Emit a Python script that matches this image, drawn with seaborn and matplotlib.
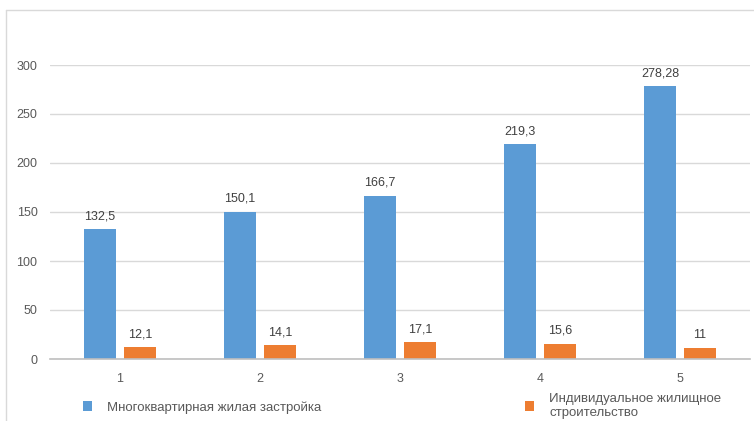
import matplotlib
matplotlib.use("Agg")
import matplotlib.pyplot as plt
from matplotlib.lines import Line2D
import seaborn as sns
import pandas as pd

# Data
periods = ["1", "2", "3", "4", "5"]
apartment_blocks = [132.5, 150.1, 166.7, 219.3, 278.28]
private_housing = [12.1, 14.1, 17.1, 15.6, 11]
series_names = ["Многоквартирная жилая застройка", "Индивидуальное жилищное\nстроительство"]
y_ticks = [0, 50, 100, 150, 200, 250, 300]

df = pd.DataFrame({
    "period": periods * 2,
    "value": apartment_blocks + private_housing,
    "series": [series_names[0]] * len(periods) + [series_names[1]] * len(periods),
})

sns.set_theme(style="white")
plt.rcParams["font.family"] = ["Liberation Sans", "DejaVu Sans"]

fig = plt.figure(figsize=(7.54, 4.21), dpi=100)
ax = fig.add_axes([50 / 754, 1 - 359 / 421, 700 / 754, (359 - 65) / 421])

sns.barplot(data=df, x="period", y="value", hue="series", ax=ax,
            palette=["#5B9BD5", "#ED7D31"], width=0.57, gap=0.22,
            saturation=1, linewidth=0, legend=True)

ax.set_ylim(0, 300)
ax.set_yticks(y_ticks)
ax.set_xlabel("")
ax.set_ylabel("")
ax.grid(axis="y", color="#d9d9d9", linewidth=1)
ax.set_axisbelow(True)
for side in ["top", "right", "left"]:
    ax.spines[side].set_visible(False)
ax.spines["bottom"].set_color("#bfbfbf")
ax.spines["bottom"].set_linewidth(1.2)
ax.tick_params(axis="both", length=0, labelsize=9, colors="#595959")
ax.tick_params(axis="x", pad=10)
ax.tick_params(axis="y", pad=9)

for container in ax.containers:
    labels = [f"{v:g}".replace(".", ",") for v in container.datavalues]
    ax.bar_label(container, labels=labels, padding=5, fontsize=9, color="#404040")

handles, labels = ax.get_legend_handles_labels()
ax.legend(handles, labels, ncol=2, loc="center left", bbox_to_anchor=(0.03, -0.16),
          frameon=False, handlelength=0.7, handleheight=0.7, handletextpad=1.15,
          columnspacing=15.4, fontsize=9.5, labelcolor="#595959")

# outer chart frame
fig.add_artist(Line2D([6 / 754, 6 / 754], [0, 1 - 10 / 421], color="#d9d9d9", lw=1))
fig.add_artist(Line2D([6 / 754, 1], [1 - 10 / 421, 1 - 10 / 421], color="#d9d9d9", lw=1))

fig.savefig("out.png", dpi=100)
